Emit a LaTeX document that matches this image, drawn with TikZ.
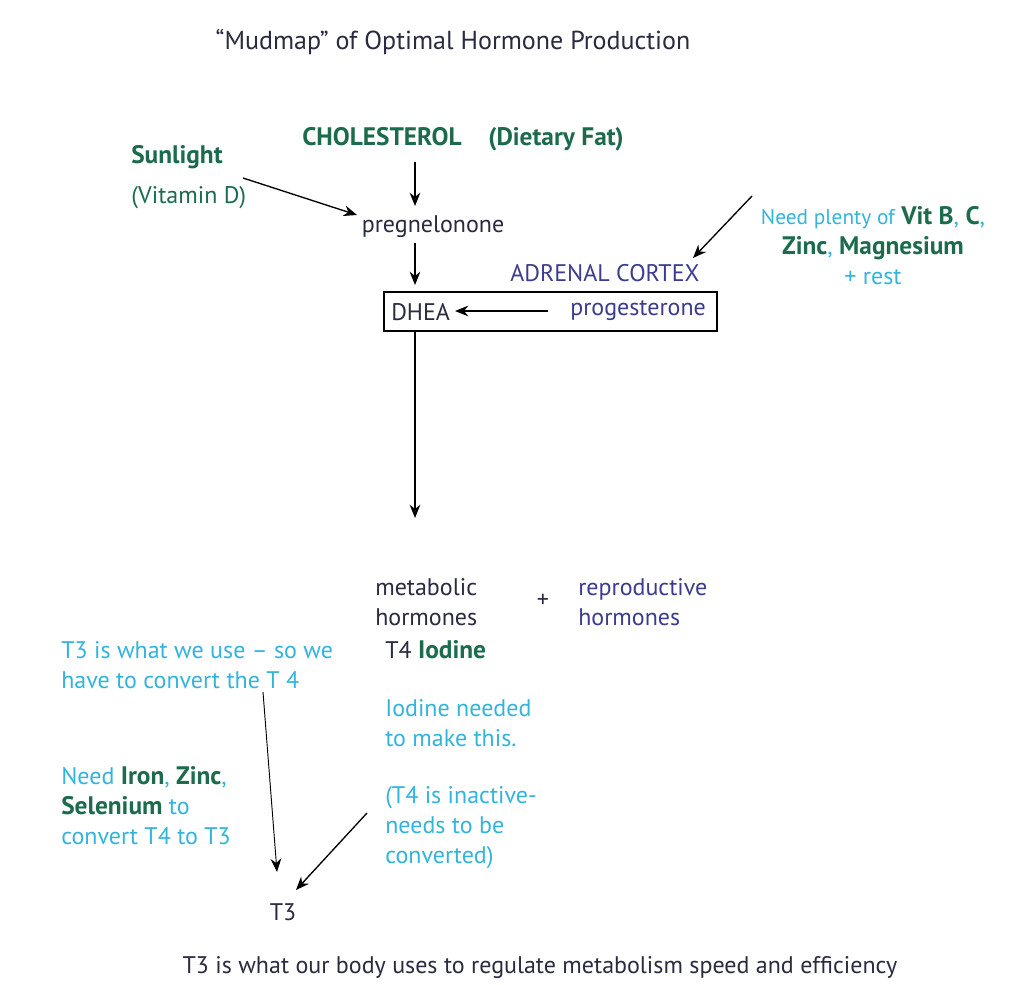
\documentclass[tikz,border=0pt]{standalone}
\usepackage{fontspec}
\setmainfont{PT Sans}
\usetikzlibrary{arrows.meta}
\definecolor{dgreen}{HTML}{1B6B4C}
\definecolor{cyanx}{HTML}{33B4DC}
\definecolor{navyx}{HTML}{3C3C8E}
\definecolor{darkx}{HTML}{2A2A40}
\newcommand{\bg}[1]{\textcolor{dgreen}{\fontsize{19}{22.5}\selectfont\bfseries #1}}
\tikzset{
  txt/.style={inner sep=0pt, font=\fontsize{18}{22.5}\selectfont, align=left},
  arr/.style={-{Stealth[length=10pt,width=8pt]}, line width=1pt, black},
  thinarr/.style={-{Stealth[length=10pt,width=8pt]}, line width=0.7pt, black},
}
\begin{document}
\begin{tikzpicture}[x=0.75pt,y=-0.75pt]
\useasboundingbox[fill=white] (0,0) rectangle (1011,985);
\node[txt, text=darkx, font=\fontsize{19.5}{22.5}\selectfont] (title) at (453,42) {“Mudmap” of Optimal Hormone Production};
\node[txt] (chol) at (463,139) {\bg{CHOLESTEROL\hspace{0.8em} (Dietary Fat)}};
\node[txt, anchor=west] (sun) at (131,157) {\bg{Sunlight}};
\node[txt, text=dgreen, anchor=west] (vitd) at (131,198) {(Vitamin D)};
\node[txt, text=darkx] (preg) at (433,227) {pregnelonone};
\node[txt, text=navyx, anchor=west] (adr) at (510,273) {ADRENAL CORTEX};
\node[txt, align=center] (need) at (873,246) {\textcolor{cyanx}{\fontsize{16}{22.5}\selectfont Need plenty of} \bg{Vit B}\textcolor{cyanx}{,} \bg{C}\textcolor{cyanx}{,}\\
\bg{Zinc}\textcolor{cyanx}{,} \bg{Magnesium}\\
\textcolor{cyanx}{+ rest}};
\node[draw=black, line width=1pt, minimum width={333*0.75pt}, minimum height={39*0.75pt}, inner sep=0pt] (box) at (550.5,311.5) {};
\node[txt, text=darkx, anchor=west] (dhea) at (391,312) {DHEA};
\node[txt, text=navyx, anchor=west] (prog) at (570,311) {progesterone};
\coordinate (boxbot) at (415,331);
\coordinate (hormtop) at (415,518);
\node[txt, text=darkx, anchor=west] (meta) at (375,602) {metabolic\\hormones};
\node[txt, text=darkx] (plus) at (543,601) {+};
\node[txt, text=navyx, anchor=west] (repro) at (578,602) {reproductive\\hormones};
\node[txt, anchor=west] (t4) at (385,650) {\textcolor{darkx}{T4} \bg{Iodine}};
\node[txt, text=cyanx, anchor=west] (t3use) at (61,665) {T3 is what we use – so we\\have to convert the T 4};
\node[txt, text=cyanx, anchor=west] (iod) at (385,723) {Iodine needed\\to make this.};
\node[txt, anchor=west] (iron) at (61,806) {\textcolor{cyanx}{Need} \bg{Iron}\textcolor{cyanx}{,} \bg{Zinc}\textcolor{cyanx}{,}\\\bg{Selenium} \textcolor{cyanx}{to}\\\textcolor{cyanx}{convert T4 to T3}};
\node[txt, text=cyanx, anchor=west] (inact) at (385,828) {(T4 is inactive-\\needs to be\\converted)};
\node[txt, text=darkx] (t3) at (283,912) {T3};
\node[txt, text=darkx] (bottom) at (540,968) {T3 is what our body uses to regulate metabolism speed and efficiency};
\coordinate (sunA) at (243,178);
\coordinate (needA) at (752,196);
\coordinate (progA) at (548,311);
\coordinate (t3A) at (263,692);
\coordinate (inA) at (367,813);
\draw[arr] (sunA) -- (357,215);
\draw[arr] (415,162) -- (415,206);
\draw[arr] (415,243) -- (415,285);
\draw[arr] (needA) -- (693,258);
\draw[arr] (progA) -- (455,311);
\draw[arr] (boxbot) -- (hormtop);
\draw[thinarr] (t3A) -- (277,872);
\draw[arr] (inA) -- (296,890);
\end{tikzpicture}
\end{document}
